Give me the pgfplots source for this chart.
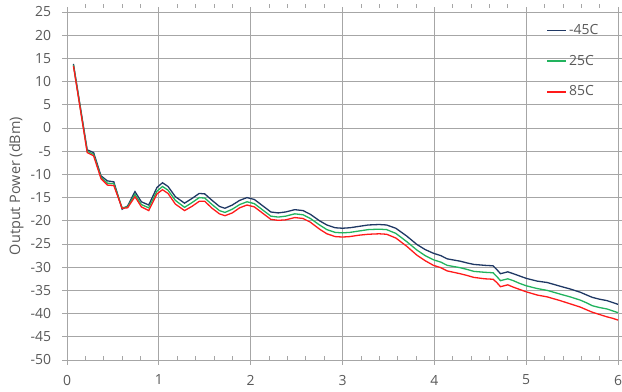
\documentclass[border=0pt]{standalone}
\usepackage{fontspec}
\setmainfont{Open Sans}
\usepackage{pgfplots}
\pgfplotsset{compat=1.18}
\usepackage{pgfplotstable}
\definecolor{cblue}{HTML}{1F3864}
\definecolor{cgreen}{HTML}{22B35E}
\definecolor{cred}{HTML}{FF1A1A}
\definecolor{cgrid}{HTML}{A6A6A6}
\definecolor{ctext}{HTML}{595959}

\pgfplotstableread{
x y
0.07 13.8
0.22 -4.7
0.29 -5.3
0.37 -10.3
0.44 -11.4
0.51 -11.6
0.60 -17.5
0.66 -16.8
0.74 -13.7
0.81 -15.9
0.89 -16.6
0.98 -12.8
1.04 -11.8
1.10 -12.6
1.18 -14.8
1.28 -16.2
1.36 -15.2
1.44 -14.1
1.50 -14.2
1.58 -15.6
1.66 -16.9
1.72 -17.3
1.80 -16.6
1.88 -15.6
1.96 -15.0
2.04 -15.4
2.12 -16.6
2.22 -18.1
2.30 -18.3
2.38 -18.1
2.48 -17.6
2.57 -17.8
2.65 -18.6
2.75 -20.0
2.83 -20.9
2.92 -21.5
3.00 -21.6
3.08 -21.5
3.18 -21.2
3.28 -20.9
3.40 -20.8
3.48 -20.9
3.58 -21.6
3.70 -23.3
3.81 -25.1
3.90 -26.2
3.99 -27.0
4.07 -27.5
4.14 -28.2
4.28 -28.7
4.36 -29.1
4.43 -29.4
4.55 -29.6
4.64 -29.7
4.68 -30.5
4.72 -31.4
4.76 -31.2
4.80 -31.0
4.86 -31.4
4.93 -31.9
5.00 -32.4
5.12 -33.0
5.23 -33.3
5.30 -33.7
5.37 -34.1
5.48 -34.7
5.59 -35.4
5.66 -36.0
5.72 -36.5
5.80 -36.9
5.88 -37.2
5.94 -37.6
6.00 -38.0
}\tblue

\pgfplotstableread{
x y
0.07 13.6
0.22 -5.0
0.29 -5.7
0.37 -10.6
0.44 -11.9
0.51 -12.0
0.60 -17.2
0.66 -17.0
0.74 -14.3
0.81 -16.5
0.89 -17.2
0.98 -13.6
1.04 -12.6
1.10 -13.4
1.18 -15.6
1.28 -17.1
1.36 -16.1
1.44 -15.0
1.50 -15.1
1.58 -16.5
1.66 -17.8
1.72 -18.2
1.80 -17.5
1.88 -16.5
1.96 -15.9
2.04 -16.3
2.12 -17.5
2.22 -19.0
2.30 -19.2
2.38 -19.0
2.48 -18.5
2.57 -18.7
2.65 -19.5
2.75 -20.9
2.83 -21.9
2.92 -22.5
3.00 -22.6
3.08 -22.5
3.18 -22.2
3.28 -21.9
3.40 -21.8
3.48 -21.9
3.58 -22.7
3.70 -24.5
3.81 -26.3
3.90 -27.5
3.99 -28.4
4.07 -28.9
4.14 -29.6
4.28 -30.1
4.36 -30.5
4.43 -30.9
4.55 -31.1
4.64 -31.2
4.68 -32.0
4.72 -32.9
4.76 -32.7
4.80 -32.5
4.86 -32.9
4.93 -33.5
5.00 -34.0
5.12 -34.6
5.23 -35.0
5.30 -35.4
5.37 -35.8
5.48 -36.4
5.59 -37.1
5.66 -37.7
5.72 -38.3
5.80 -38.7
5.88 -39.0
5.94 -39.4
6.00 -39.8
}\tgreen

\pgfplotstableread{
x y
0.07 13.4
0.22 -5.3
0.29 -6.0
0.37 -10.9
0.44 -12.3
0.51 -12.4
0.60 -17.3
0.66 -17.2
0.74 -14.8
0.81 -17.0
0.89 -17.8
0.98 -14.2
1.04 -13.3
1.10 -14.1
1.18 -16.4
1.28 -17.8
1.36 -16.9
1.44 -15.8
1.50 -15.8
1.58 -17.3
1.66 -18.5
1.72 -18.9
1.80 -18.3
1.88 -17.2
1.96 -16.6
2.04 -17.0
2.12 -18.2
2.22 -19.7
2.30 -19.9
2.38 -19.8
2.48 -19.3
2.57 -19.5
2.65 -20.3
2.75 -21.8
2.83 -22.8
2.92 -23.4
3.00 -23.5
3.08 -23.4
3.18 -23.1
3.28 -22.9
3.40 -22.8
3.48 -22.9
3.58 -23.7
3.70 -25.5
3.81 -27.4
3.90 -28.6
3.99 -29.6
4.07 -30.1
4.14 -30.8
4.28 -31.4
4.36 -31.8
4.43 -32.2
4.55 -32.5
4.64 -32.6
4.68 -33.3
4.72 -34.2
4.76 -34.0
4.80 -33.8
4.86 -34.3
4.93 -34.8
5.00 -35.3
5.12 -36.0
5.23 -36.4
5.30 -36.8
5.37 -37.2
5.48 -37.9
5.59 -38.6
5.66 -39.2
5.72 -39.7
5.80 -40.2
5.88 -40.7
5.94 -41.0
6.00 -41.4
}\tred

\begin{document}
\fontsize{14.5}{17}\selectfont
\begin{tikzpicture}
\begin{axis}[
  at={(67bp,32bp)}, anchor=south west,
  scale only axis, width=551bp, height=348bp,
  xmin=0, xmax=6, ymin=-50, ymax=25,
  xtick={0,1,...,6}, ytick={-50,-45,...,25},
  minor x tick num=4,
  grid=major,
  major grid style={cgrid, line width=0.7bp},
  axis line style={cgrid, line width=0.7bp},
  tick style={cgrid, line width=0.7bp},
  tick align=outside,
  major tick length=5bp,
  minor tick length=4bp,
  minor tick style={yshift=4bp},
  ytick style={draw=cgrid},
  /pgf/number format/assume math mode=true,
  ticklabel style={font=\fontsize{14}{17}\selectfont, text=ctext},
  xticklabel style={yshift=-5bp},
  yticklabel style={xshift=-6bp},
  ylabel={Output Power (dBm)},
  ylabel style={font=\fontsize{14.5}{17}\selectfont, text=ctext, yshift=-3bp},
  legend style={draw=none, fill=none, at={(0.87,0.971)}, anchor=north west,
    font=\fontsize{14}{17}\selectfont, text=ctext,
    row sep=14.5bp, inner sep=0pt},
  legend cell align=left,
  legend image code/.code={\draw[#1, line width=1.6bp] (0bp,0bp) -- (19bp,0bp);},
]
\addplot[cblue, line width=1.3bp] table[x=x,y=y] {\tblue};
\addlegendentry{-45C}
\addplot[cgreen, line width=1.3bp] table[x=x,y=y] {\tgreen};
\addlegendentry{25C}
\addplot[cred, line width=1.3bp] table[x=x,y=y] {\tred};
\addlegendentry{85C}
\end{axis}
\pgfresetboundingbox
\path[use as bounding box] (0,0) rectangle (622bp,392bp);
\end{tikzpicture}
\end{document}
